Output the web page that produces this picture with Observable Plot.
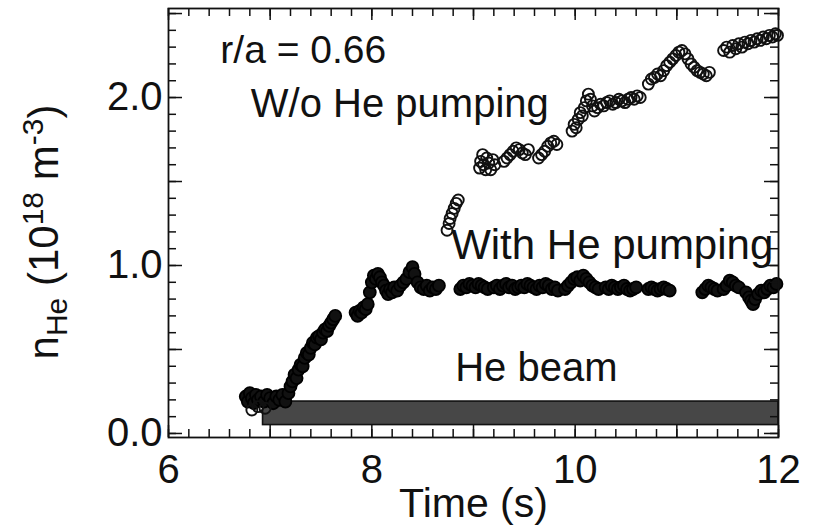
<!DOCTYPE html>
<html>
<head>
<meta charset="utf-8">
<script src="https://cdn.jsdelivr.net/npm/d3@7"></script>
<script src="https://cdn.jsdelivr.net/npm/@observablehq/plot@0.6"></script>
<style>
  body { margin: 0; background: #fff; }
  #chart svg { display: block; }
</style>
</head>
<body>
<div id="chart"></div>
<script>
// He density at r/a = 0.66 with He pumping (s, 10^18 m^-3)
const withTime = [
  6.76, 6.78, 6.80, 6.82, 6.84, 6.86, 6.88, 6.91, 6.94, 6.97, 7.00, 7.03, 7.06, 7.09, 7.12, 7.15, 7.18,
  7.20, 7.22, 7.24, 7.26, 7.28, 7.30, 7.32, 7.34, 7.36, 7.38, 7.40, 7.42, 7.44, 7.46, 7.48, 7.50, 7.52,
  7.54, 7.56, 7.58, 7.60, 7.62, 7.64,
  7.84, 7.86, 7.88, 7.90, 7.92, 7.94, 7.96, 7.98, 8.00, 8.02, 8.04, 8.06, 8.08, 8.10, 8.12, 8.14, 8.16,
  8.18, 8.20, 8.22, 8.25, 8.28, 8.31, 8.34, 8.37, 8.40, 8.42, 8.45, 8.48, 8.51, 8.54, 8.57, 8.60, 8.63, 8.66,
  8.87, 8.90, 8.93, 8.96, 8.99, 9.02, 9.05, 9.08, 9.11, 9.14,
  9.20, 9.23, 9.26, 9.29, 9.32, 9.35, 9.38, 9.41, 9.44, 9.47, 9.50, 9.53, 9.56, 9.59, 9.62, 9.65, 9.68,
  9.71, 9.74, 9.77, 9.80, 9.83,
  9.90, 9.93, 9.96, 9.99, 10.02, 10.05, 10.08, 10.11, 10.14, 10.17, 10.20, 10.23,
  10.30, 10.33, 10.36, 10.39, 10.42, 10.45, 10.48, 10.51, 10.54, 10.57, 10.60,
  10.72, 10.75, 10.78, 10.81, 10.84, 10.87, 10.90, 10.93,
  11.25, 11.28, 11.31, 11.34, 11.37, 11.40,
  11.46, 11.49, 11.52, 11.55, 11.58, 11.61,
  11.68, 11.71, 11.73, 11.75, 11.77, 11.80, 11.83, 11.86, 11.89, 11.92, 11.95, 11.98
];
const withDensity = [
  0.22, 0.19, 0.24, 0.21, 0.18, 0.23, 0.20, 0.22, 0.19, 0.23, 0.21, 0.18, 0.22, 0.20, 0.23, 0.19, 0.24,
  0.28, 0.31, 0.35, 0.33, 0.38, 0.41, 0.40, 0.45, 0.48, 0.47, 0.51, 0.54, 0.53, 0.57, 0.58, 0.56, 0.60,
  0.62, 0.61, 0.64, 0.66, 0.68, 0.70,
  0.72, 0.70, 0.73, 0.72, 0.75, 0.74, 0.77, 0.84, 0.90, 0.94, 0.92, 0.95, 0.93, 0.90, 0.88, 0.85, 0.83,
  0.86, 0.84, 0.87, 0.85, 0.88, 0.90, 0.92, 0.96, 0.99, 0.95, 0.90, 0.87, 0.86, 0.88, 0.85, 0.87, 0.86, 0.88,
  0.86, 0.88, 0.87, 0.89, 0.88, 0.87, 0.89, 0.88, 0.87, 0.86,
  0.87, 0.88, 0.86, 0.88, 0.89, 0.87, 0.88, 0.86, 0.87, 0.88, 0.87, 0.89, 0.88, 0.87, 0.86, 0.88, 0.87,
  0.89, 0.88, 0.86, 0.87, 0.85,
  0.86, 0.88, 0.90, 0.92, 0.93, 0.91, 0.94, 0.92, 0.90, 0.88, 0.87, 0.86,
  0.87, 0.86, 0.88, 0.87, 0.86, 0.87, 0.88, 0.86, 0.85, 0.86, 0.87,
  0.86, 0.87, 0.86, 0.85, 0.86, 0.87, 0.86, 0.85,
  0.84, 0.86, 0.88, 0.87, 0.86, 0.85,
  0.86, 0.88, 0.91, 0.90, 0.88, 0.87,
  0.84, 0.81, 0.79, 0.77, 0.80, 0.83, 0.85, 0.84, 0.86, 0.88, 0.87, 0.89
];

// He density at r/a = 0.66 without He pumping (s, 10^18 m^-3)
const withoutTime = [
  6.82, 6.88, 6.95,
  8.74, 8.76, 8.77, 8.79, 8.81, 8.83, 8.85,
  9.06, 9.07, 9.09, 9.10, 9.12, 9.13, 9.15, 9.17, 9.19, 9.21,
  9.30, 9.33, 9.36, 9.39, 9.42, 9.45, 9.48, 9.51, 9.54,
  9.64, 9.67, 9.70, 9.73, 9.76, 9.79, 9.82,
  9.97, 9.99, 10.01, 10.03, 10.05, 10.07, 10.09, 10.11, 10.13, 10.15, 10.17, 10.19, 10.22, 10.25,
  10.28, 10.31, 10.34, 10.37, 10.40, 10.43, 10.46, 10.49, 10.52, 10.55, 10.58, 10.61, 10.64,
  10.72, 10.75, 10.78, 10.81, 10.84, 10.87, 10.90, 10.93, 10.96, 10.99, 11.02, 11.05, 11.08, 11.11,
  11.14, 11.17, 11.20, 11.23, 11.26, 11.29, 11.32,
  11.46, 11.49, 11.52, 11.55, 11.58, 11.61, 11.64, 11.67, 11.70, 11.73, 11.76, 11.79, 11.82, 11.85,
  11.88, 11.91, 11.94, 11.97, 11.99
];
const withoutDensity = [
  0.14, 0.16, 0.15,
  1.21, 1.25, 1.28, 1.31, 1.34, 1.37, 1.39,
  1.58, 1.62, 1.66, 1.60, 1.57, 1.64, 1.61, 1.57, 1.63, 1.60,
  1.62, 1.64, 1.66, 1.68, 1.70, 1.69, 1.67, 1.66, 1.69,
  1.64, 1.66, 1.68, 1.71, 1.73, 1.74, 1.72,
  1.80, 1.84, 1.82, 1.87, 1.91, 1.89, 1.94, 1.98, 2.02, 1.99, 1.95, 1.92, 1.94, 1.96,
  1.95, 1.97, 1.98, 1.96, 1.97, 1.99, 1.98, 1.97, 1.99, 2.00, 1.99, 2.01, 2.00,
  2.08, 2.11, 2.12, 2.14, 2.13, 2.16, 2.19, 2.21, 2.23, 2.25, 2.27, 2.28, 2.26, 2.23,
  2.20, 2.18, 2.16, 2.15, 2.14, 2.13, 2.15,
  2.28, 2.30, 2.27, 2.31, 2.29, 2.32, 2.30, 2.33, 2.32, 2.34, 2.33, 2.35, 2.34, 2.36,
  2.35, 2.37, 2.36, 2.38, 2.37
];

// He beam injection window
const beamStart = 6.93;
const beamEnd = 12;
const beamLow = 0.05;
const beamHigh = 0.19;

// Axis tick labels
const xTickLabels = [6, 8, 10, 12];
const yTickLabels = [0, 1, 2];

const withPumping = withTime.map((t, i) => ({time: t, density: withDensity[i]}));
const withoutPumping = withoutTime.map((t, i) => ({time: t, density: withoutDensity[i]}));

const xMinor = d3.range(6, 12.001, 0.2).map(v => +v.toFixed(1));
const xMajor = d3.range(6, 12.001, 1);
const yMinor = d3.range(0, 2.501, 0.1).map(v => +v.toFixed(1));
const yMajor = d3.range(0, 2.501, 0.5);

const W = 813, H = 529;
const mL = 168, mR = 35, mT = 8, mB = 92;
const frameW = W - mL - mR, frameH = H - mT - mB;
const font = "'Liberation Sans', Arial, Helvetica, sans-serif";
const ink = "#111";

const chart = Plot.plot({
  width: W,
  height: H,
  marginLeft: mL,
  marginRight: mR,
  marginTop: mT,
  marginBottom: mB,
  style: {fontFamily: font, fontSize: "40px", background: "#fff", color: ink, overflow: "visible"},
  x: {domain: [6, 12]},
  y: {domain: [-0.024, 2.53]},
  marks: [
    // beam band
    Plot.rect([0], {x1: beamStart, x2: beamEnd, y1: beamLow, y2: beamHigh, fill: "#474747", stroke: ink, strokeWidth: 1.6}),
    // data
    Plot.dot(withPumping, {x: "time", y: "density", r: 6, fill: "#111", stroke: "#000", strokeWidth: 1.8}),
    Plot.dot(withoutPumping, {x: "time", y: "density", r: 5.5, fill: "none", stroke: ink, strokeWidth: 1.9}),
    // inward ticks on all four sides
    Plot.tickX(xMinor, {x: d => d, insetTop: frameH - 8, stroke: ink, strokeWidth: 1.5}),
    Plot.tickX(xMajor, {x: d => d, insetTop: frameH - 12, stroke: ink, strokeWidth: 1.5}),
    Plot.tickX(xMinor, {x: d => d, insetBottom: frameH - 8, stroke: ink, strokeWidth: 1.5}),
    Plot.tickX(xMajor, {x: d => d, insetBottom: frameH - 12, stroke: ink, strokeWidth: 1.5}),
    Plot.tickY(yMinor, {y: d => d, insetRight: frameW - 8, stroke: ink, strokeWidth: 1.5}),
    Plot.tickY(yMajor, {y: d => d, insetRight: frameW - 14, stroke: ink, strokeWidth: 1.5}),
    Plot.tickY(yMinor, {y: d => d, insetLeft: frameW - 8, stroke: ink, strokeWidth: 1.5}),
    Plot.tickY(yMajor, {y: d => d, insetLeft: frameW - 14, stroke: ink, strokeWidth: 1.5}),
    Plot.frame({stroke: ink, strokeWidth: 1.8}),
    // tick labels
    Plot.axisX({ticks: xTickLabels, tickSize: 0, tickPadding: 17, tickFormat: d => String(d), label: null, fontSize: 40}),
    Plot.axisY({ticks: yTickLabels, tickSize: 0, tickPadding: 6, tickFormat: d => d.toFixed(1), label: null, fontSize: 40}),
    Plot.text(["Time (s)"], {frameAnchor: "bottom", lineAnchor: "middle", dy: 66, text: d => d, fontSize: 41, fill: ink}),
    // annotations
    Plot.text(["r/a = 0.66"], {x: 6.51, y: 2.28, text: d => d, textAnchor: "start", fontSize: 39, fill: ink}),
    Plot.text(["W/o He pumping"], {x: 6.81, y: 1.96, text: d => d, textAnchor: "start", fontSize: 40, fill: ink}),
    Plot.text(["With He pumping"], {x: 8.78, y: 1.12, text: d => d, textAnchor: "start", fontSize: 42, fill: ink}),
    Plot.text(["He beam"], {x: 8.82, y: 0.39, text: d => d, textAnchor: "start", fontSize: 40, fill: ink})
  ]
});

// rotated y-axis title with subscript and superscripts
const svg = d3.select(chart);
const ylab = svg.append("text")
  .attr("transform", "translate(58,232) rotate(-90)")
  .attr("text-anchor", "middle")
  .attr("font-family", font)
  .attr("font-size", 42)
  .attr("fill", ink);
ylab.append("tspan").text("n");
ylab.append("tspan").attr("font-size", 30).attr("dy", 9).text("He");
ylab.append("tspan").attr("dy", -9).text(" (10");
ylab.append("tspan").attr("font-size", 30).attr("dy", -15).text("18");
ylab.append("tspan").attr("dy", 15).text(" m");
ylab.append("tspan").attr("font-size", 30).attr("dy", -15).text("-3");
ylab.append("tspan").attr("dy", 15).text(")");

document.getElementById("chart").appendChild(chart);
</script>
</body>
</html>
